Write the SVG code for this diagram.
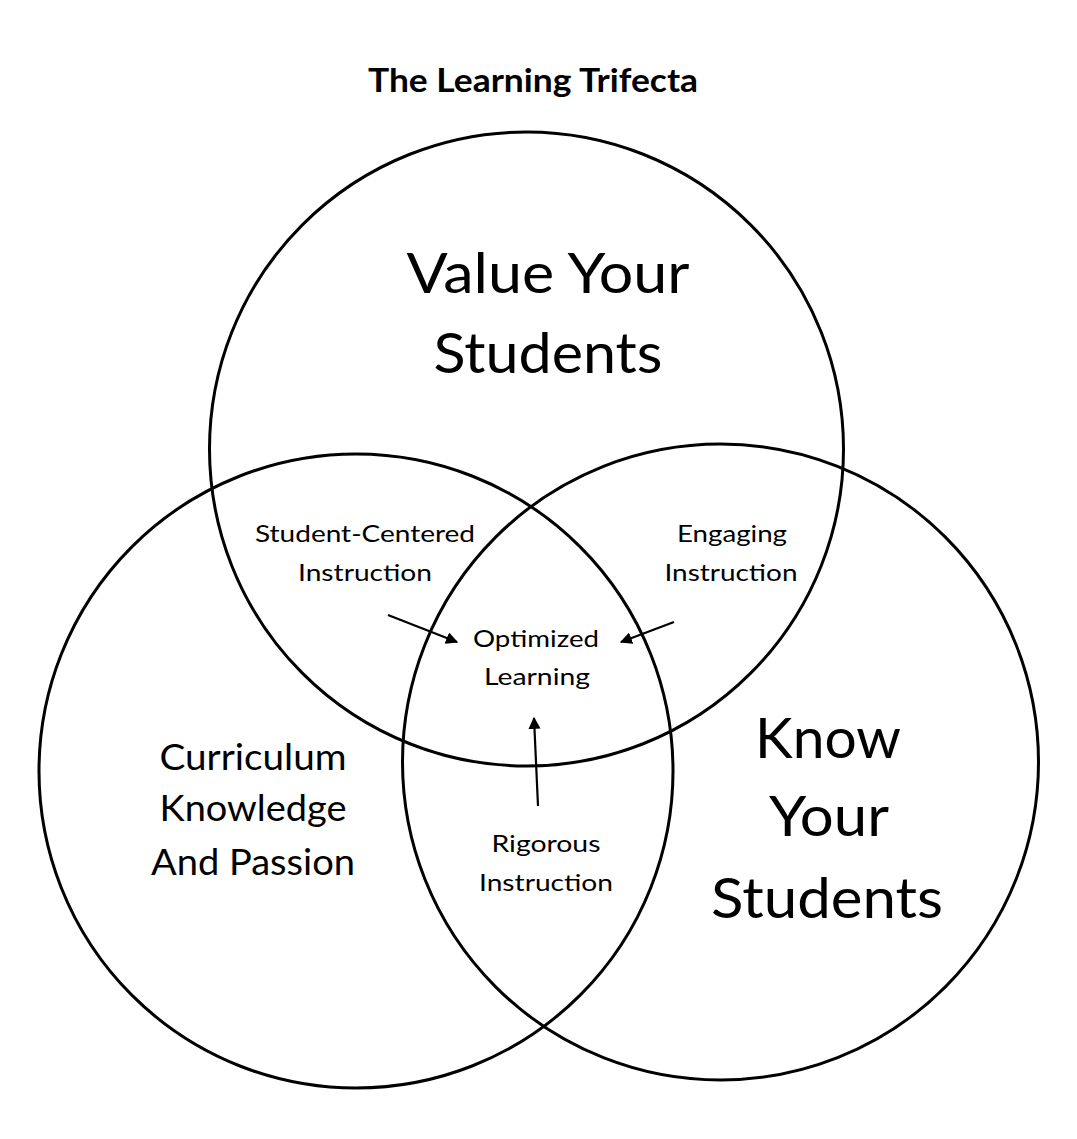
<svg xmlns="http://www.w3.org/2000/svg" width="1077" height="1139" viewBox="0 0 1077 1139">
<style>
.c{fill:none;stroke:#000;stroke-width:3}
text{font-family:Lato,"Open Sans","Liberation Sans",sans-serif;fill:#000;text-anchor:middle}
.t{font-size:33px;font-weight:bold}
.b{font-size:57px}
.m{font-size:36px}
.s{font-size:24px}
.a{stroke:#000;stroke-width:2.2;fill:none;marker-end:url(#ah)}
</style>
<defs>
<marker id="ah" viewBox="0 0 10 10" refX="9" refY="5" markerWidth="5.5" markerHeight="5.5" orient="auto" markerUnits="strokeWidth">
<path d="M0,0 L10,5 L0,10 z" fill="#000"/>
</marker>
</defs>
<rect width="1077" height="1139" fill="#fff"/>
<text class="t" x="533" y="92" textLength="330" lengthAdjust="spacingAndGlyphs">The Learning Trifecta</text>
<g id="circle-value">
<circle class="c" cx="526.5" cy="449" r="317"/>
<text class="b" x="548" y="293" textLength="283" lengthAdjust="spacingAndGlyphs">Value Your</text>
<text class="b" x="548" y="373" textLength="229" lengthAdjust="spacingAndGlyphs">Students</text>
</g>
<g id="circle-curriculum">
<circle class="c" cx="356" cy="771" r="317"/>
<text class="m" x="253" y="770" textLength="187" lengthAdjust="spacingAndGlyphs">Curriculum</text>
<text class="m" x="253" y="821" textLength="187" lengthAdjust="spacingAndGlyphs">Knowledge</text>
<text class="m" x="253" y="875" textLength="204" lengthAdjust="spacingAndGlyphs">And Passion</text>
</g>
<g id="circle-know">
<circle class="c" cx="720.5" cy="762" r="318"/>
<text class="b" x="828" y="758" textLength="146" lengthAdjust="spacingAndGlyphs">Know</text>
<text class="b" x="829" y="836" textLength="120" lengthAdjust="spacingAndGlyphs">Your</text>
<text class="b" x="827" y="918" textLength="232" lengthAdjust="spacingAndGlyphs">Students</text>
</g>
<g id="student-centered">
<text class="s" x="365" y="542" textLength="220" lengthAdjust="spacingAndGlyphs">Student-Centered</text>
<text class="s" x="365" y="581" textLength="134" lengthAdjust="spacingAndGlyphs">Instruction</text>
</g>
<g id="engaging">
<text class="s" x="732" y="542" textLength="110" lengthAdjust="spacingAndGlyphs">Engaging</text>
<text class="s" x="731" y="581" textLength="133" lengthAdjust="spacingAndGlyphs">Instruction</text>
</g>
<g id="optimized">
<text class="s" x="536" y="647" textLength="126" lengthAdjust="spacingAndGlyphs">Optimized</text>
<text class="s" x="537" y="685" textLength="106" lengthAdjust="spacingAndGlyphs">Learning</text>
</g>
<g id="rigorous">
<text class="s" x="546" y="852" textLength="109" lengthAdjust="spacingAndGlyphs">Rigorous</text>
<text class="s" x="546" y="891" textLength="134" lengthAdjust="spacingAndGlyphs">Instruction</text>
</g>
<g id="connectors">
<line class="a" x1="388" y1="615" x2="457" y2="642"/>
<line class="a" x1="674" y1="622" x2="621" y2="642"/>
<line class="a" x1="538" y1="806" x2="534" y2="718"/>
</g>
</svg>
